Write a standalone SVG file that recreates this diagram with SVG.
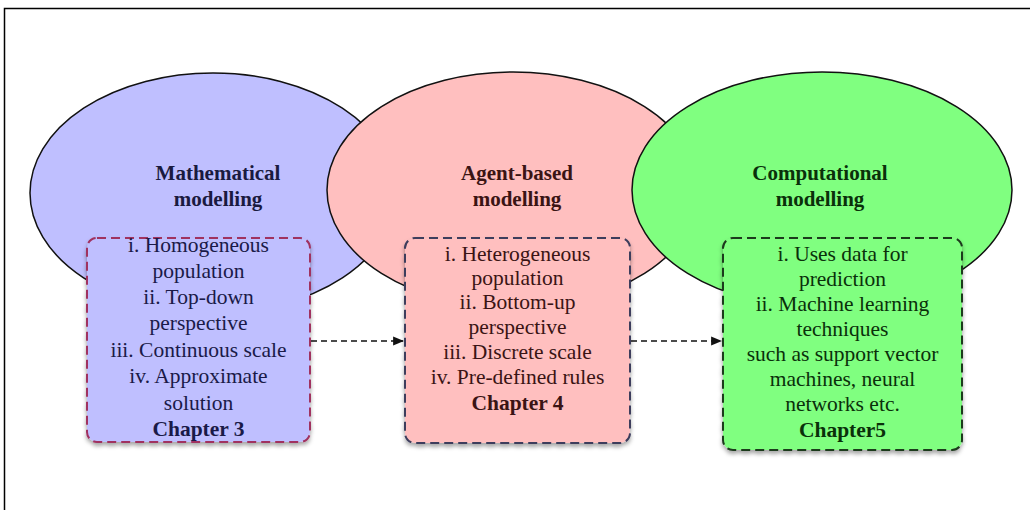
<svg xmlns="http://www.w3.org/2000/svg" width="1030" height="510" viewBox="0 0 1030 510">
<style>
.ell{stroke:#111;stroke-width:1.5}
.box{stroke-width:2;stroke-dasharray:9 5}
.title{font-family:"Liberation Serif","DejaVu Serif","Times New Roman",serif;font-weight:bold;font-size:21px;text-anchor:middle}
.body{font-family:"Liberation Serif","DejaVu Serif","Times New Roman",serif;font-size:21.5px;text-anchor:middle}
.conn{stroke:#111;stroke-width:1.5;stroke-dasharray:6 4;fill:none}
</style>
<defs>
<filter id="sh" x="-10%" y="-10%" width="120%" height="125%">
<feDropShadow dx="0" dy="3" stdDeviation="2" flood-color="#000" flood-opacity="0.35"/>
</filter>
<marker id="ah" viewBox="0 0 10 10" refX="9" refY="5" markerWidth="11" markerHeight="11" markerUnits="userSpaceOnUse" orient="auto">
<path d="M0,1 L10,5 L0,9 Z" fill="#111"/>
</marker>
</defs>
<rect x="0" y="0" width="1030" height="510" fill="#fff"/>
<rect x="4.5" y="8.5" width="1100" height="600" fill="none" stroke="#000" stroke-width="1.5"/>

<g id="math-ellipse">
<ellipse class="ell" cx="213" cy="193" rx="183" ry="120" fill="#bfbfff"/>
</g>
<g id="agent-ellipse">
<ellipse class="ell" cx="513" cy="190" rx="186" ry="118" fill="#ffbfbf"/>
</g>
<g id="comp-ellipse">
<ellipse class="ell" cx="822" cy="190" rx="190" ry="118" fill="#80ff80"/>
</g>

<g id="math-title" class="title" fill="#1a1a40" font-family="Liberation Serif, serif">
<text x="218" y="180">Mathematical</text>
<text x="218" y="206">modelling</text>
</g>
<g id="agent-title" class="title" fill="#3a1414" font-family="Liberation Serif, serif">
<text x="517" y="180">Agent-based</text>
<text x="517" y="206">modelling</text>
</g>
<g id="comp-title" class="title" fill="#0a300a" font-family="Liberation Serif, serif">
<text x="820" y="180">Computational</text>
<text x="820" y="206">modelling</text>
</g>

<g id="connectors">
<line class="conn" x1="311" y1="341" x2="403" y2="341" marker-end="url(#ah)"/>
<line class="conn" x1="631" y1="341" x2="721" y2="341" marker-end="url(#ah)"/>
</g>

<g id="math-box">
<rect class="box" x="87" y="238" width="223" height="204" rx="10" fill="#bfbfff" stroke="#a03060" filter="url(#sh)"/>
<g class="body" fill="#1a1a48" font-family="Liberation Serif, serif">
<text x="198.5" y="252">i. Homogeneous</text>
<text x="198.5" y="278">population</text>
<text x="198.5" y="304">ii. Top-down</text>
<text x="198.5" y="330">perspective</text>
<text x="198.5" y="357">iii. Continuous scale</text>
<text x="198.5" y="383">iv. Approximate</text>
<text x="198.5" y="410">solution</text>
<text x="198.5" y="436" font-weight="bold">Chapter 3</text>
</g>
</g>

<g id="agent-box">
<rect class="box" x="405" y="238" width="225" height="205" rx="10" fill="#ffbfbf" stroke="#3c3c5c" filter="url(#sh)"/>
<g class="body" fill="#3a1414" font-family="Liberation Serif, serif">
<text x="517.5" y="261">i. Heterogeneous</text>
<text x="517.5" y="285">population</text>
<text x="517.5" y="309">ii. Bottom-up</text>
<text x="517.5" y="334">perspective</text>
<text x="517.5" y="359">iii. Discrete scale</text>
<text x="517.5" y="384">iv. Pre-defined rules</text>
<text x="517.5" y="410" font-weight="bold">Chapter 4</text>
</g>
</g>

<g id="comp-box">
<rect class="box" x="723" y="238" width="239" height="212" rx="10" fill="#80ff80" stroke="#1e3a1e" filter="url(#sh)"/>
<g class="body" fill="#0a300a" font-family="Liberation Serif, serif">
<text x="842.5" y="261">i. Uses data for</text>
<text x="842.5" y="286">prediction</text>
<text x="842.5" y="311">ii. Machine learning</text>
<text x="842.5" y="336">techniques</text>
<text x="842.5" y="361">such as support vector</text>
<text x="842.5" y="386">machines, neural</text>
<text x="842.5" y="411">networks etc.</text>
<text x="842.5" y="437" font-weight="bold">Chapter5</text>
</g>
</g>
</svg>
